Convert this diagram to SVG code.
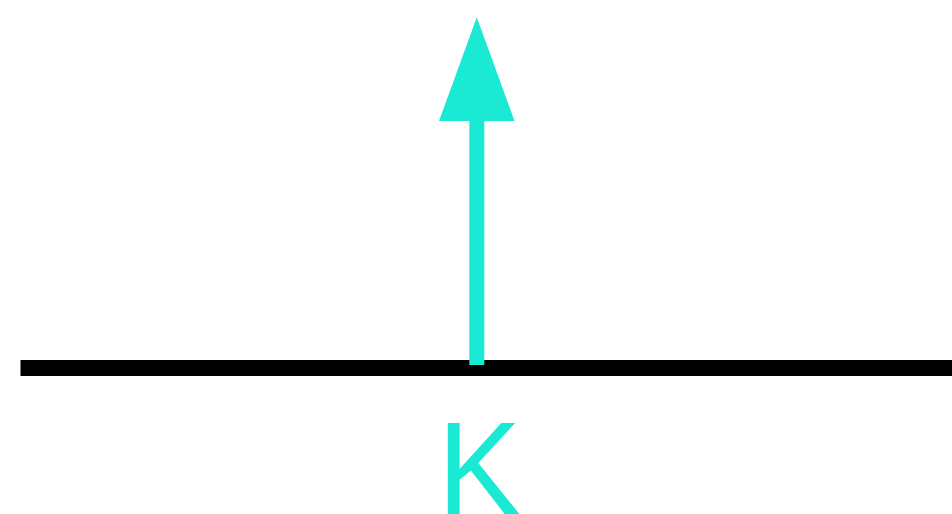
<svg xmlns="http://www.w3.org/2000/svg" width="952" height="514" viewBox="0 0 952 514">
<style>
.acc{fill:#1AEAD3}
.lbl{font-family:"Liberation Sans",Arial,sans-serif;font-size:126px}
</style>
<rect width="952" height="514" fill="#ffffff"/>
<g id="connectors">
<line x1="20.5" y1="368" x2="952" y2="368" stroke="#000" stroke-width="16"/>
<rect class="acc" x="469.3" y="118" width="15" height="247"/>
<polygon class="acc" points="476.8,17.3 439,121 514.5,121"/>
</g>
<g id="label-K" transform="translate(0,514.5) scale(1,1.053)">
<text class="acc lbl" x="437.5" y="0">K</text>
</g>
</svg>
